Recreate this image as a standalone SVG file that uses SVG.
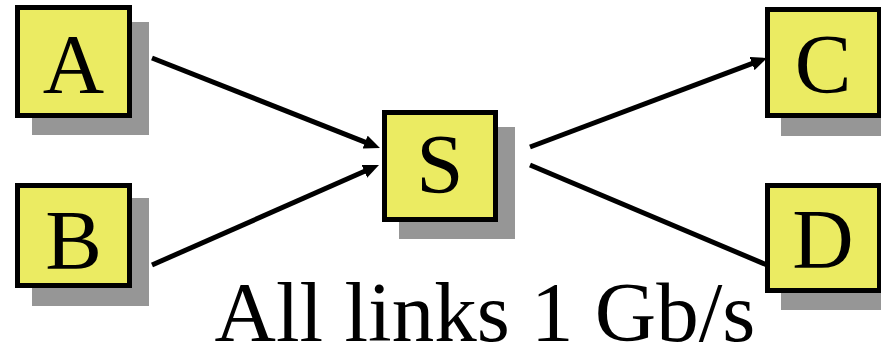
<svg xmlns="http://www.w3.org/2000/svg" width="881" height="352" viewBox="0 0 881 352">
<defs>
<marker id="arr" viewBox="0 0 16 14" refX="4" refY="7" markerWidth="16" markerHeight="14" markerUnits="userSpaceOnUse" orient="auto">
<path d="M0,0 L16,7 L0,14 z" fill="#000"/>
</marker>
</defs>
<style>
.sh{fill:#969696}
.bx{fill:#ebeb62;stroke:#000;stroke-width:5}
.lb{font-family:'Liberation Serif','Times New Roman','DejaVu Serif',serif;font-size:85px;fill:#000;text-anchor:middle}
.ln{stroke:#000;stroke-width:5;fill:none}
</style>
<rect width="881" height="352" fill="#fff"/>
<g id="connectors">
<line class="ln" x1="152" y1="58" x2="368.8" y2="143.6" marker-end="url(#arr)"/>
<line class="ln" x1="152" y1="265" x2="368" y2="169.8" marker-end="url(#arr)"/>
<line class="ln" x1="530" y1="147" x2="755.8" y2="62.2" marker-end="url(#arr)"/>
<line class="ln" x1="530" y1="165" x2="767" y2="265"/>
</g>
<g id="node-A">
<rect class="sh" x="32" y="22" width="117" height="113"/>
<rect class="bx" x="17.5" y="7.5" width="112" height="108"/>
<text class="lb" x="73.5" y="93">A</text>
</g>
<g id="node-B">
<rect class="sh" x="32" y="198" width="117" height="108"/>
<rect class="bx" x="17.5" y="185.5" width="112" height="100"/>
<text class="lb" x="73.5" y="269">B</text>
</g>
<g id="node-S">
<rect class="sh" x="399" y="127" width="116" height="112"/>
<rect class="bx" x="384.5" y="112.5" width="111" height="107"/>
<text class="lb" x="440" y="193">S</text>
</g>
<g id="node-C">
<rect class="sh" x="781" y="24" width="117" height="112"/>
<rect class="bx" x="767.5" y="9.5" width="112" height="106"/>
<text class="lb" x="823" y="93">C</text>
</g>
<g id="node-D">
<rect class="sh" x="781" y="200" width="117" height="110"/>
<rect class="bx" x="767.5" y="185.5" width="112" height="105"/>
<text class="lb" x="823" y="268">D</text>
</g>
<text class="lb" x="485" y="341">All links 1 Gb/s</text>
</svg>
